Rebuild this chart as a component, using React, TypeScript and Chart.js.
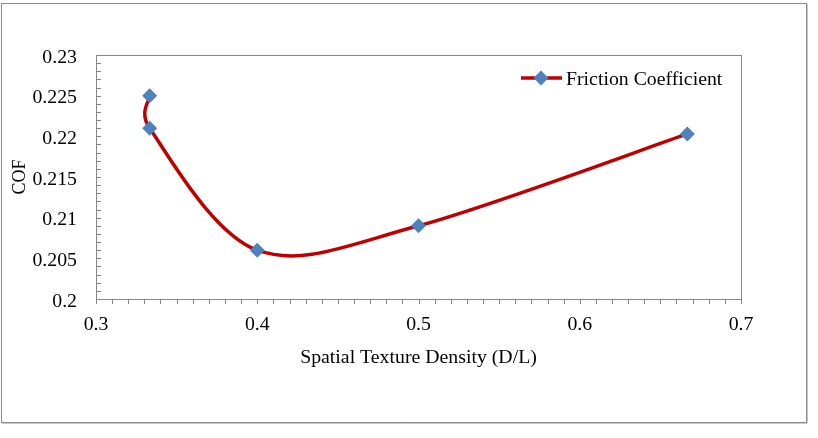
import React, { useEffect, useRef } from 'react';
import { Chart, registerables } from 'chart.js';

Chart.register(...registerables);

// ---- data ----
const densities = [0.3333, 0.3333, 0.4, 0.5, 0.6667];
const cofValues = [0.225, 0.221, 0.206, 0.209, 0.2203];
const seriesName = 'Friction Coefficient';
const xTitle = 'Spatial Texture Density (D/L)';
const yTitle = 'COF';
const xTickLabels = ['0.3', '0.4', '0.5', '0.6', '0.7'];
const yTickLabels = ['0.2', '0.205', '0.21', '0.215', '0.22', '0.225', '0.23'];
const xMinorStep = 0.01;
const yMinorStep = 0.001;

const LINE_COLOR = '#C00000';
const MARKER_COLOR = '#4F81BD';
const AXIS_COLOR = '#868686';
const FONT = '18px "Liberation Serif", "Times New Roman", serif';
const SX = 1.1;

function drawText(ctx: CanvasRenderingContext2D, text: string, x: number, y: number, align: CanvasTextAlign, rotate = 0) {
  ctx.save();
  ctx.translate(x, y);
  ctx.scale(SX, 1);
  if (rotate) ctx.rotate(rotate);
  ctx.textAlign = align;
  ctx.textBaseline = 'alphabetic';
  ctx.fillStyle = '#000';
  ctx.font = FONT;
  ctx.fillText(text, 0, 0);
  ctx.restore();
}

function diamond(ctx: CanvasRenderingContext2D, x: number, y: number, r: number) {
  ctx.beginPath();
  ctx.moveTo(x - r, y);
  ctx.lineTo(x, y - r);
  ctx.lineTo(x + r, y);
  ctx.lineTo(x, y + r);
  ctx.closePath();
  ctx.fillStyle = MARKER_COLOR;
  ctx.fill();
}

// Excel-like smoothing: Catmull-Rom (1/6) handles, limited on very short segments
function applySmoothing(chart: any) {
  const meta = chart.getDatasetMeta(0);
  const line = meta.dataset;
  if (line && line.updateControlPoints) line.updateControlPoints(chart.chartArea, 'x');
  const pts = meta.data;
  const n = pts.length;
  for (let i = 0; i < n; i++) {
    const p = pts[i];
    const prev = pts[Math.max(i - 1, 0)];
    const next = pts[Math.min(i + 1, n - 1)];
    const tx = (next.x - prev.x) / 6;
    const ty = (next.y - prev.y) / 6;
    const tl = Math.hypot(tx, ty);
    const dIn = i > 0 ? Math.hypot(p.x - prev.x, p.y - prev.y) : 0;
    const dOut = i < n - 1 ? Math.hypot(next.x - p.x, next.y - p.y) : 0;
    const sIn = tl > 0 ? Math.min(1, (0.6 * dIn) / tl) : 0;
    const sOut = tl > 0 ? Math.min(1, (0.6 * dOut) / tl) : 0;
    p.cp1x = p.x - tx * sIn;
    p.cp1y = p.y - ty * sIn;
    p.cp2x = p.x + tx * sOut;
    p.cp2y = p.y + ty * sOut;
  }
  if (line) line._path = undefined;
}

const decorPlugin = {
  id: 'decor',
  beforeDatasetsDraw(chart: any) {
    applySmoothing(chart);
    const { ctx, chartArea: a } = chart;
    ctx.save();
    ctx.strokeStyle = AXIS_COLOR;
    ctx.lineWidth = 1;
    ctx.strokeRect(a.left + 0.5, a.top + 0.5, a.right - a.left, a.bottom - a.top);
    ctx.restore();
  },
  afterDraw(chart: any) {
    const { ctx, chartArea: a } = chart;
    const xs = chart.scales.x;
    const ys = chart.scales.y;
    ctx.save();
    // outer frame
    ctx.strokeStyle = '#8c8c8c';
    ctx.lineWidth = 1;
    ctx.strokeRect(1.5, 3.5, 805, 419);
    ctx.strokeStyle = '#c8c8c8';
    ctx.beginPath();
    ctx.moveTo(807.5, 4);
    ctx.lineTo(807.5, 423.5);
    ctx.lineTo(2, 423.5);
    ctx.stroke();

    // ticks
    ctx.strokeStyle = AXIS_COLOR;
    ctx.lineWidth = 1;
    ctx.beginPath();
    const xMin = xs.min, xMax = xs.max;
    const nx = Math.round((xMax - xMin) / xMinorStep);
    for (let i = 0; i <= nx; i++) {
      const px = Math.round(xs.getPixelForValue(xMin + i * xMinorStep)) + 0.5;
      ctx.moveTo(px, a.bottom);
      ctx.lineTo(px, a.bottom + 5);
    }
    const yMin = ys.min, yMax = ys.max;
    const ny = Math.round((yMax - yMin) / yMinorStep);
    for (let i = 0; i <= ny; i++) {
      const py = Math.round(ys.getPixelForValue(yMin + i * yMinorStep)) + 0.5;
      ctx.moveTo(a.left, py);
      ctx.lineTo(a.left + 5, py);
    }
    ctx.stroke();

    // tick labels
    xTickLabels.forEach((t) => {
      drawText(ctx, t, xs.getPixelForValue(parseFloat(t)), a.bottom + 31, 'center');
    });
    yTickLabels.forEach((t) => {
      drawText(ctx, t, a.left - 19, ys.getPixelForValue(parseFloat(t)) + 7.6, 'right');
    });

    // axis titles
    drawText(ctx, xTitle, (a.left + a.right) / 2, 363, 'center');
    drawText(ctx, yTitle, 25, (a.top + a.bottom) / 2, 'center', -Math.PI / 2);

    // legend
    ctx.strokeStyle = LINE_COLOR;
    ctx.lineWidth = 3.5;
    ctx.beginPath();
    ctx.moveTo(521, 78);
    ctx.lineTo(562, 78);
    ctx.stroke();
    diamond(ctx, 541, 78, 7.5);
    drawText(ctx, seriesName, 566, 84.5, 'left');
    ctx.restore();
  },
};

export default function App() {
  const ref = useRef<HTMLCanvasElement | null>(null);
  useEffect(() => {
    if (!ref.current) return;
    const chart = new Chart(ref.current, {
      type: 'line',
      data: {
        datasets: [
          {
            label: seriesName,
            data: densities.map((x, i) => ({ x, y: cofValues[i] })),
            borderColor: LINE_COLOR,
            borderWidth: 3.5,
            tension: 0.4,
            pointStyle: 'rectRot',
            pointRadius: 7.5,
            pointBackgroundColor: MARKER_COLOR,
            pointBorderColor: MARKER_COLOR,
            pointBorderWidth: 0,
            fill: false,
          },
        ],
      },
      options: {
        animation: false,
        responsive: false,
        devicePixelRatio: 1,
        layout: { padding: { left: 96, top: 55, right: 77, bottom: 139 } },
        plugins: { legend: { display: false }, tooltip: { enabled: false } },
        scales: {
          x: { type: 'linear', min: 0.3, max: 0.7, display: false },
          y: { type: 'linear', min: 0.2, max: 0.23, display: false },
        },
      },
      plugins: [decorPlugin],
    });
    return () => chart.destroy();
  }, []);
  return (
    <div style={{ position: 'fixed', left: 0, top: 0, width: 818, height: 438, background: '#fff' }}>
      <canvas ref={ref} width={818} height={438} style={{ width: 818, height: 438 }} />
    </div>
  );
}
